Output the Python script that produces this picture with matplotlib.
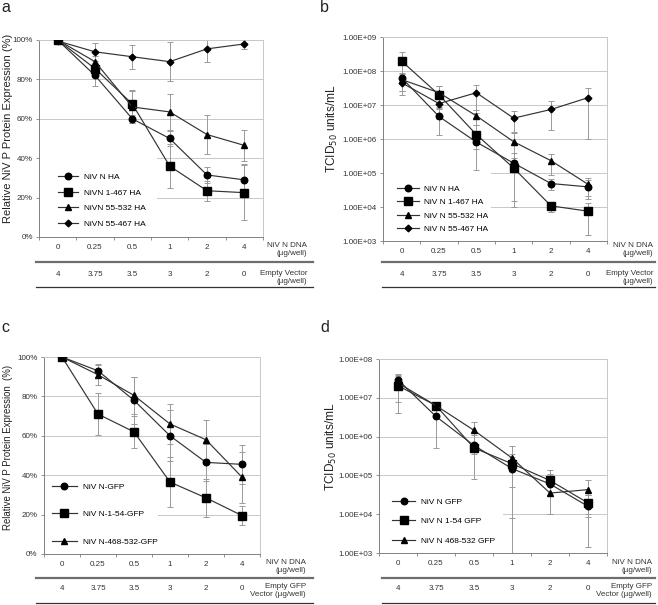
import matplotlib
matplotlib.use("Agg")
import matplotlib.pyplot as plt
import matplotlib.transforms as mtransforms
from matplotlib.lines import Line2D
from matplotlib.patches import Rectangle
from matplotlib.ticker import FuncFormatter, FixedLocator

plt.rcParams['font.family'] = ['Liberation Sans', 'DejaVu Sans']

W, H = 658, 605

# shared table rows
dna_ug = ['0', '0.25', '0.5', '1', '2', '4']
empty_ug = ['4', '3.75', '3.5', '3', '2', '0']

# panel a: relative P expression (%)
a_labels = ['NiV N HA', 'NiVN 1-467 HA', 'NiVN 55-532 HA', 'NiVN 55-467 HA']
a_n_ha = [100, 82, 60, 50, 31.5, 29]
a_n_ha_err = [0, 5.5, 2, 4, 4, 8]
a_1_467 = [100, 85.5, 67.5, 36, 23.5, 22.5]
a_1_467_err = [0, 3, 7, 11, 5, 14]
a_55_532 = [100, 89, 66, 63.5, 52, 46.5]
a_55_532_err = [0, 3, 8, 9, 10, 8]
a_55_467 = [99.5, 94, 91.5, 89, 95.5, 98]
a_55_467_err = [0, 4.5, 6, 10, 6.5, 2.5]

# panel b: TCID50 units/mL
b_labels = ['NiV N HA', 'NiV N 1-467 HA', 'NiV N 55-532 HA', 'NiV N 55-467 HA']
b_n_ha = [6.3e7, 4.6e6, 8.1e5, 1.95e5, 4.9e4, 3.9e4]
b_n_ha_err = [2e7, 3.3e6, 3e5, 1.8e5, 1.8e4, 2.2e4]
b_1_467 = [1.95e8, 2e7, 1.35e6, 1.4e5, 1.08e4, 7.5e3]
b_1_467_err = [1.75e8, 1.6e7, 1.23e6, 1.3e5, 3.5e3, 6e3]
b_55_532 = [5.6e7, 2.3e7, 4.8e6, 8.3e5, 2.3e5, 4.6e4]
b_55_532_err = [3e7, 1.4e7, 2.2e6, 6.5e5, 1.4e5, 2.5e4]
b_55_467 = [4.5e7, 1.1e7, 2.3e7, 4.1e6, 7.4e6, 1.65e7]
b_55_467_err = [1.9e7, 3.6e6, 1.7e7, 2.5e6, 5.5e6, 1.55e7]

# panel c: relative P expression (%)
c_labels = ['NiV N-GFP', 'NiV N-1-54-GFP', 'NiV N-468-532-GFP']
c_n_gfp = [100, 93, 78, 60, 46.5, 45.5]
c_n_gfp_err = [0, 3.5, 12, 13, 9.5, 10]
c_1_54 = [100, 71, 62, 36.5, 28.5, 19.5]
c_1_54_err = [0, 10.5, 8, 12.5, 9.5, 5]
c_468_532 = [100, 91, 80.5, 66, 58, 39]
c_468_532_err = [0, 5, 9.5, 10, 10, 13]

# panel d: TCID50 units/mL
d_labels = ['NiV N GFP', 'NiV N 1-54 GFP', 'NiV N 468-532 GFP']
d_n_gfp = [2.9e7, 3.3e6, 5.9e5, 1.5e5, 6e4, 1.6e4]
d_n_gfp_err = [1e7, 2.8e6, 5.1e5, 1.42e5, 5e4, 1.46e4]
d_1_54 = [2.05e7, 6.3e6, 5.1e5, 2e5, 7.4e4, 1.95e4]
d_1_54_err = [1.65e7, 1e6, 1.6e5, 1.5e5, 6.4e4, 1.1e4]
d_468_532 = [2.4e7, 6.3e6, 1.45e6, 2.8e5, 3.5e4, 4.3e4]
d_468_532_err = [1.6e7, 1e6, 9.5e5, 2.8e5, 2.5e4, 3.3e4]

MARKERS = [('o', 4.7), ('s', 5.4), ('^', 5.0), ('D', 3.4)]
GRID = '#c8c8c8'
AXC = '#808080'


def px_box(l, t, r, b):
    return [l / W, 1 - b / H, (r - l) / W, (b - t) / H]


def fx(x):
    return x / W


def fy(y):
    return 1 - y / H


fig = plt.figure(figsize=(W / 100, H / 100), dpi=100)


def panel(box, series, errs, labels, log, ylab, ylab_size, ylab_xy, leg_xy,
          leg_space, leg_hlen, cover, row_y, right_lab1, right_lab2, right_x):
    ax = fig.add_axes(box)
    x = list(range(len(dna_ug)))
    for i, (ys, es) in enumerate(zip(series, errs)):
        m, ms = MARKERS[i]
        ax.errorbar(x, ys, yerr=es, fmt='none', ecolor='#9a9a9a',
                    elinewidth=0.7, capsize=2.2, capthick=0.7, zorder=2)
        ax.plot(x, ys, color='#333333', lw=0.85, marker=m, ms=ms,
                mfc='black', mec='black', label=labels[i], zorder=3)
    ax.set_xlim(-0.5, 5.5)
    if log:
        ax.set_yscale('log')
        ax.set_ylim(log[0], log[1])
        ax.yaxis.set_major_locator(FixedLocator([10.0 ** k for k in range(3, 10)]))
        ax.yaxis.set_minor_locator(FixedLocator([]))
        ax.yaxis.set_major_formatter(FuncFormatter(lambda v, p: f'{v:.2E}'))
    else:
        ax.set_ylim(0, 100)
        ax.set_yticks([0, 20, 40, 60, 80, 100])
        ax.yaxis.set_major_formatter(FuncFormatter(lambda v, p: f'{v:.0f}%'))
    ax.set_axisbelow(True)
    ax.grid(axis='y', color=GRID, lw=0.7)
    ax.set_xticks(x)
    ax.set_xticklabels(dna_ug)
    ax.set_xticks([k - 0.5 for k in range(7)], minor=True)
    ax.tick_params(axis='x', which='major', length=0, pad=5, labelsize=5.8,
                   colors='#333333')
    ax.tick_params(axis='x', which='minor', length=2.5, color=AXC, width=0.6)
    ax.tick_params(axis='y', length=2.5, color=AXC, width=0.6, labelsize=5.8,
                   labelcolor='#333333', pad=2)
    for s in ['top', 'right']:
        ax.spines[s].set_color(GRID)
        ax.spines[s].set_linewidth(0.7)
    for s in ['left', 'bottom']:
        ax.spines[s].set_color(AXC)
        ax.spines[s].set_linewidth(0.7)
    ax.set_ylabel(ylab, fontsize=ylab_size, color='#222222')
    ax.yaxis.set_label_coords(*ylab_xy)
    # white box behind legend (hides gridlines)
    ax.add_patch(Rectangle((0.003, 0.003), cover[0], cover[1],
                           transform=ax.transAxes, facecolor='white',
                           edgecolor='none', zorder=1))
    ax.legend(loc='upper left', bbox_to_anchor=leg_xy, frameon=False,
              fontsize=6, labelspacing=leg_space, handlelength=leg_hlen,
              handletextpad=0.7, borderpad=0, borderaxespad=0)

    # table rows under the axis
    tr = mtransforms.blended_transform_factory(ax.transData, fig.transFigure)
    for k, v in enumerate(empty_ug):
        ax.text(k, fy(row_y[1]), v, transform=tr, ha='center', va='center',
                fontsize=5.8, color='#333333')
    fig.text(fx(right_x), fy(row_y[0]), right_lab1, ha='right', va='top',
             fontsize=5.8, color='#333333', linespacing=1.25)
    fig.text(fx(right_x), fy(row_y[2]), right_lab2, ha='right', va='top',
             fontsize=5.8, color='#333333', linespacing=1.25)
    return ax


# a
panel(px_box(39, 40, 263, 237), [a_n_ha, a_1_467, a_55_532, a_55_467],
      [a_n_ha_err, a_1_467_err, a_55_532_err, a_55_467_err], a_labels, None,
      'Relative NiV P Protein Expression (%)', 8.0, (-0.118, 0.55), (0.085, 0.325),
      0.95, 2.4, (0.525, 0.41), (242, 275, 270),
      'NiV N DNA\n(µg/well)', 'Empty Vector\n(µg/well)', 307)
# b
panel(px_box(383, 37, 607, 241), [b_n_ha, b_1_467, b_55_532, b_55_467],
      [b_n_ha_err, b_1_467_err, b_55_532_err, b_55_467_err], b_labels, (1e3, 1e9),
      'TCID$_{50}$ units/mL', 8.6, (-0.19, 0.55), (0.0625, 0.275),
      0.68, 2.6, (0.48, 0.34), (242, 275, 270),
      'NiV N DNA\n(µg/well)', 'Empty Vector\n(µg/well)', 653)
# c
panel(px_box(44, 357, 260, 554), [c_n_gfp, c_1_54, c_468_532],
      [c_n_gfp_err, c_1_54_err, c_468_532_err], c_labels, None,
      'Relative NiV P Protein Expression  (%)', 6.9, (-0.145, 0.54), (0.037, 0.36),
      2.35, 3.0, (0.525, 0.385), (559, 589, 583),
      'NiV N DNA\n(µg/well)', 'Empty GFP\nVector (µg/well)', 306)
# d
panel(px_box(379, 359, 607, 553), [d_n_gfp, d_1_54, d_468_532],
      [d_n_gfp_err, d_1_54_err, d_468_532_err], d_labels, (1e3, 1e8),
      'TCID$_{50}$ units/mL', 8.6, (-0.175, 0.55), (0.057, 0.285),
      1.4, 2.8, (0.54, 0.36), (559, 589, 583),
      'NiV N DNA\n(µg/well)', 'Empty GFP\nVector (µg/well)', 652)

# table separator lines
for x0, x1 in [(36, 313), (382, 655)]:
    for yt, yb in [(262, 287), (578, 603)]:
        fig.add_artist(Line2D([fx(x0), fx(x1)], [fy(yt), fy(yt)],
                              transform=fig.transFigure, color='#6e6e6e', lw=1.6))
        fig.add_artist(Line2D([fx(x0), fx(x1)], [fy(yb), fy(yb)],
                              transform=fig.transFigure, color='#333333', lw=0.9))

# panel letters
for letter, lx, ly in [('a', 1, 12), ('b', 320, 12), ('c', 1, 332), ('d', 320, 332)]:
    fig.text(fx(lx), fy(ly), letter, fontsize=11.5, va='baseline', ha='left',
             color='#222222')

fig.savefig('out.png', dpi=100, facecolor='white')
